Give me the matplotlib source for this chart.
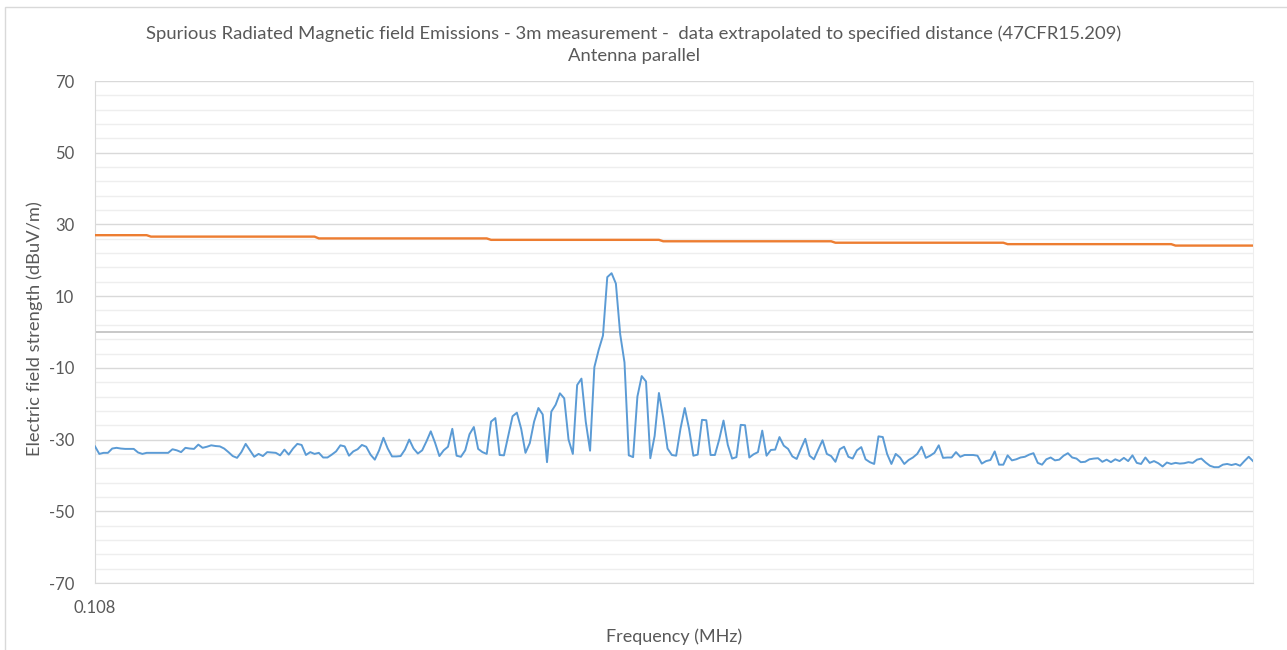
import numpy as np
import matplotlib
matplotlib.use('Agg')
from matplotlib import pyplot as plt
from matplotlib.patches import Rectangle
from matplotlib.ticker import FixedLocator

plt.rcParams['font.family'] = ['Lato', 'DejaVu Sans']
plt.rcParams['axes.unicode_minus'] = False

# measured field strength (dBuV/m), one value per frequency step from 0.108 MHz
emission = [
    -31.9, -34.0, -33.7, -33.7, -32.5, -32.3, -32.5, -32.6, -32.6, -32.6,
    -33.6, -34.0, -33.7, -33.7, -33.7, -33.7, -33.7, -33.7, -32.7, -33.0,
    -33.5, -32.3, -32.5, -32.6, -31.4, -32.3, -32.0, -31.6, -31.8, -31.9,
    -32.5, -33.5, -34.6, -35.1, -33.5, -31.2, -33.0, -34.8, -34.0, -34.6,
    -33.5, -33.6, -33.7, -34.4, -32.8, -34.2, -32.5, -31.2, -31.5, -34.3,
    -33.5, -34.0, -33.7, -35.0, -35.0, -34.2, -33.3, -31.6, -31.9, -34.5,
    -33.3, -32.7, -31.5, -32.0, -34.2, -35.6, -33.0, -29.5, -32.5, -34.7,
    -34.7, -34.6, -32.8, -30.0, -32.5, -33.9, -33.0, -30.5, -27.7, -30.9,
    -34.6, -33.0, -32.0, -27.0, -34.5, -34.8, -33.0, -28.5, -26.5, -32.6,
    -33.5, -34.0, -25.0, -24.0, -34.3, -34.4, -29.0, -23.5, -22.5, -27.0,
    -33.7, -31.0, -25.0, -21.2, -23.0, -36.3, -22.2, -20.3, -17.1, -18.5,
    -30.0, -34.0, -14.8, -13.0, -25.0, -33.1, -9.8, -5.0, -1.0, 15.3,
    16.4, 13.5, -0.6, -8.5, -34.4, -34.9, -18.0, -12.3, -13.8, -35.2,
    -29.0, -17.0, -24.0, -32.5, -34.3, -34.5, -27.0, -21.2, -27.0, -34.5,
    -34.2, -24.5, -24.6, -34.3, -34.3, -30.0, -24.7, -31.5, -35.3, -34.9,
    -25.9, -26.0, -35.0, -34.1, -33.5, -27.5, -34.5, -32.9, -32.8, -29.3,
    -31.7, -32.6, -34.7, -35.4, -32.5, -29.8, -34.5, -35.5, -32.8, -30.2,
    -34.0, -34.6, -36.2, -32.7, -32.0, -34.8, -35.3, -33.0, -32.1, -35.5,
    -36.3, -36.8, -29.1, -29.3, -34.0, -36.8, -34.0, -35.0, -36.8, -35.7,
    -35.0, -34.0, -32.0, -35.1, -34.5, -33.7, -31.6, -35.1, -35.0, -35.0,
    -33.5, -34.8, -34.3, -34.3, -34.3, -34.5, -36.7, -36.0, -35.7, -33.3,
    -37.0, -37.0, -34.4, -35.8, -35.5, -35.0, -34.8, -34.2, -33.8, -36.5,
    -37.0, -35.5, -35.0, -35.8, -35.6, -34.5, -33.8, -35.0, -35.3, -36.3,
    -36.2, -35.5, -35.3, -35.2, -36.2, -35.6, -36.3, -35.5, -36.0, -35.1,
    -36.0, -34.4, -36.5, -36.8, -35.0, -36.5, -36.0, -36.6, -37.5, -36.4,
    -36.8, -36.5, -36.7, -36.6, -36.3, -36.5, -35.6, -35.3, -36.4, -37.3,
    -37.7, -37.7, -37.0, -36.8, -37.1, -36.8, -37.3, -36.0, -34.8, -36.0,
]

# 47CFR15.209 limit, extrapolated (dBuV/m) and how many frequency steps each level holds
limit_levels = [27.0, 26.6, 26.1, 25.7, 25.3, 24.9, 24.5, 24.1]
limit_runs = [13, 39, 40, 40, 40, 40, 39, 19]
limit = np.repeat(limit_levels, limit_runs)

x_labels = ['0.108']

title = ('Spurious Radiated Magnetic field Emissions - 3m measurement -  data extrapolated to specified distance (47CFR15.209)\n'
         'Antenna parallel')

W, H = 1287, 650
fig = plt.figure(figsize=(W / 100, H / 100), dpi=100)
ax = fig.add_axes([95 / W, 1 - 583 / H, 1158 / W, 502 / H])

x = np.arange(len(emission))
ax.plot(x, limit, color='#ed7d31', lw=1.7, zorder=3)
ax.plot(x, emission, color='#5b9bd5', lw=1.4, zorder=4)
ax.axhline(0, color='#bfbfbf', lw=1.2, zorder=2)

ax.set_xlim(0, len(emission) - 1)
ax.set_ylim(-70, 70)
ax.yaxis.set_major_locator(FixedLocator(np.arange(-70, 71, 20)))
ax.yaxis.set_minor_locator(FixedLocator(np.arange(-70, 71, 4)))
ax.set_xticks([0])
ax.set_xticklabels(x_labels)
ax.grid(axis='y', which='major', color='#d9d9d9', lw=1.0, zorder=0)
ax.grid(axis='y', which='minor', color='#eeeeee', lw=1.0, zorder=0)
ax.set_axisbelow(True)
ax.tick_params(axis='both', which='both', length=0, colors='#595959', labelsize=12)
ax.tick_params(axis='y', pad=15)
ax.tick_params(axis='x', pad=12)

ax.spines['top'].set_visible(False)
ax.spines['left'].set_color('#d9d9d9')
ax.spines['right'].set_color('#eeeeee')
ax.spines['bottom'].set_color('#d9d9d9')

fig.text(634 / W, 1 - 45 / H, title, ha='center', va='center', fontsize=13.3,
         color='#595959', linespacing=1.45)
fig.text(35 / W, 1 - 329 / H, 'Electric field strength (dBuV/m)', rotation=90,
         ha='center', va='center', fontsize=13.2, color='#595959')
fig.text(674 / W, 1 - 637 / H, 'Frequency (MHz)', ha='center', va='center',
         fontsize=13, color='#595959')

fig.patches.append(Rectangle((5 / W, -0.05), 1.1, 1 - 7 / H + 0.05, transform=fig.transFigure,
                             fill=False, edgecolor='#d9d9d9', lw=1.0))

fig.savefig('out.png', dpi=100)
